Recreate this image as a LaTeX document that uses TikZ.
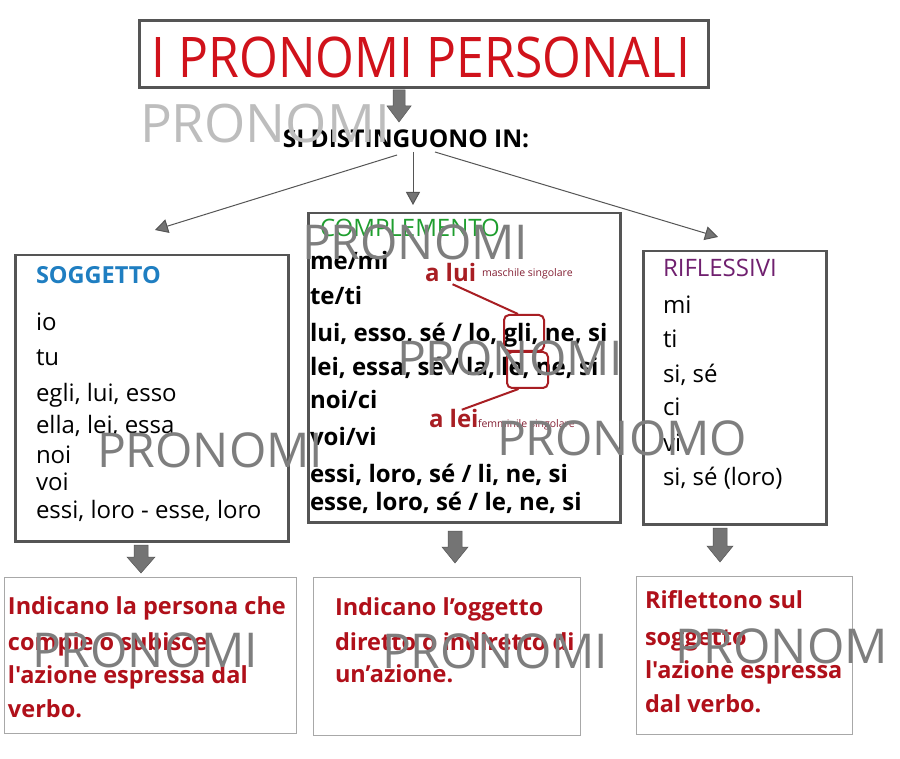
\documentclass[tikz,border=0pt]{standalone}
\usepackage{fontspec}
\setmainfont{Open Sans}[Ligatures=TeXOff]
\newfontfamily\osn{Open Sans}[FakeStretch=0.89]
\usetikzlibrary{arrows.meta}
\definecolor{titlered}{HTML}{D0121B}
\definecolor{darkred}{HTML}{B0101A}
\definecolor{hlred}{HTML}{A81E23}
\definecolor{smallred}{HTML}{842034}
\definecolor{boxgray}{HTML}{555555}
\definecolor{lightbox}{HTML}{A8A8A8}
\definecolor{sogblue}{HTML}{1F7EC1}
\definecolor{compgreen}{HTML}{1E9E2E}
\definecolor{riflpurple}{HTML}{70206F}
\definecolor{arrowfill}{HTML}{747474}
\definecolor{wmgray}{HTML}{7E7E7E}
\definecolor{wmlight}{HTML}{BDBDBD}
\newcommand\fs[1]{\fontsize{#1pt}{#1pt}\selectfont}
\tikzset{
  txt/.style={anchor=base west, inner sep=0pt, outer sep=0pt},
  reg/.style={txt, font=\fs{24}},
  bld/.style={txt, font=\bfseries\fs{24}},
  botxt/.style={txt, text=darkred, font=\bfseries\fs{23.5}},
  mainbox/.style={draw=boxgray, line width=2.5pt, anchor=north west, inner sep=0pt},
  lowbox/.style={draw=lightbox, line width=1.1pt, anchor=north west, inner sep=0pt},
  blockarr/.style={fill=arrowfill, draw=boxgray, line width=0.5pt},
  thinarr/.style={draw=boxgray, line width=1pt, -{Triangle[length=13pt,width=14pt,fill=arrowfill]}},
  hlbox/.style={draw=hlred, line width=2pt, rounded corners=5pt, inner sep=0pt},
  hlline/.style={draw=hlred, line width=2pt},
  wm/.style={txt, text=wmgray, font=\fs{48}},
}
\begin{document}
\begin{tikzpicture}[x=1pt,y=-1pt]
\fill[white] (0,0) rectangle (900,759);
\useasboundingbox (0,0) rectangle (900,759);

% title
\node[draw=boxgray, line width=3pt, minimum width=569pt, minimum height=67pt, anchor=north west, inner sep=0pt] (title) at (138,19) {};
\node[anchor=base, inner sep=0pt, text=titlered, font=\osn\fs{56}] (titletxt) at (421,78) {I PRONOMI PERSONALI};

% block arrow under title
\draw[blockarr] (393,90) -- (405,90) -- (405,106) -- (411,106) -- (399,122) -- (387,106) -- (393,106) -- cycle;

\node[anchor=base, inner sep=0pt, font=\bfseries\fs{24.5}] (si) at (406,148) {SI DISTINGUONO IN:};

\coordinate (s1) at (397,155);
\coordinate (s2) at (413,152);
\coordinate (s3) at (435,152);
\coordinate (e1) at (155,230);
\coordinate (e2) at (413,205);
\coordinate (e3) at (718,237);
\draw[thinarr] (s1) -- (e1);
\draw[thinarr] (s2) -- (e2);
\draw[thinarr] (s3) -- (e3);

% SOGGETTO box
\node[mainbox, minimum width=273pt, minimum height=286pt] (sog) at (14,254) {};
\node[txt, text=sogblue, font=\bfseries\fs{23.5}] (sogt) at (36,284) {SOGGETTO};
\node[reg] (s-a) at (36,331) {io};
\node[reg] (s-b) at (36,366) {tu};
\node[reg] (s-c) at (36,401) {egli, lui, esso};
\node[reg] (s-d) at (36,433) {ella, lei, essa};
\node[reg] (s-e) at (36,463) {noi};
\node[reg] (s-f) at (36,490) {voi};
\node[reg] (s-g) at (36,518) {essi, loro - esse, loro};

% COMPLEMENTO box
\node[mainbox, minimum width=312pt, minimum height=309pt] (comp) at (307,212) {};
\node[txt, text=compgreen, font=\fs{24}] (compt) at (320,237) {COMPLEMENTO};
\node[bld] (c-a) at (310,270) {me/mi};
\node[bld] (c-b) at (310,305) {te/ti};
\node[bld] (c-c) at (310,342) {lui, esso, sé / lo, gli, ne, si};
\node[bld] (c-d) at (310,375) {lei, essa, sé / la, le, ne, si};
\node[bld] (c-e) at (310,408) {noi/ci};
\node[bld] (c-f) at (310,445) {voi/vi};
\node[bld] (c-g) at (310,482) {essi, loro, sé / li, ne, si};
\node[bld] (c-h) at (310,510) {esse, loro, sé / le, ne, si};

\node[txt, text=hlred, font=\bfseries\fs{24}] (alui) at (425,282) {a lui};
\node[txt, text=smallred, font=\fs{10.5}] (masc) at (482,277) {maschile singolare};
\node[txt, text=hlred, font=\bfseries\fs{24}] (alei) at (429,428) {a lei};
\node[txt, text=smallred, font=\fs{10.5}] (femm) at (478,427) {femminile singolare};
\node[hlbox, minimum width=40pt, minimum height=36pt, anchor=north west] (glibox) at (503,314) {};
\node[hlbox, minimum width=41pt, minimum height=36pt, anchor=north west] (lebox) at (506,351) {};
\draw[hlline] ([xshift=2pt,yshift=-2pt]alui.south) -- ([xshift=-6pt]glibox.north);
\draw[hlline] ([xshift=-9pt]lebox.south) -- ([xshift=8pt]alei.north);

% RIFLESSIVI box
\node[mainbox, minimum width=183pt, minimum height=273pt] (rifl) at (642,250) {};
\node[txt, text=riflpurple, font=\fs{24}] (riflt) at (663,277) {RIFLESSIVI};
\node[reg] (r-a) at (663,314) {mi};
\node[reg] (r-b) at (663,348) {ti};
\node[reg] (r-c) at (663,383) {si, sé};
\node[reg] (r-d) at (663,415) {ci};
\node[reg] (r-e) at (663,451) {vi};
\node[reg] (r-f) at (663,485) {si, sé (loro)};

% block arrows to bottom boxes
\draw[blockarr] (134,545) -- (148,545) -- (148,557) -- (155,557) -- (141,573) -- (127,557) -- (134,557) -- cycle;
\draw[blockarr] (448,531) -- (462,531) -- (462,547) -- (468,547) -- (455,563) -- (442,547) -- (448,547) -- cycle;
\draw[blockarr] (713,528) -- (727,528) -- (727,546) -- (733,546) -- (720,562) -- (707,546) -- (713,546) -- cycle;

% bottom boxes
\node[lowbox, minimum width=292pt, minimum height=156pt] (b1) at (4,577) {};
\node[lowbox, minimum width=267pt, minimum height=158pt] (b2) at (313,577) {};
\node[lowbox, minimum width=216pt, minimum height=158pt] (b3) at (636,576) {};

\node[botxt] (b1a) at (8,614) {Indicano la persona che};
\node[botxt] (b1b) at (8,650) {compie o subisce};
\node[botxt] (b1c) at (8,683) {l'azione espressa dal};
\node[botxt] (b1d) at (8,717) {verbo.};

\node[botxt] (b2a) at (335,615) {Indicano l’oggetto};
\node[botxt] (b2b) at (335,650) {diretto o indiretto di};
\node[botxt] (b2c) at (335,682) {un’azione.};

\node[botxt] (b3a) at (645,608) {Riflettono sul};
\node[botxt] (b3b) at (645,645) {soggetto};
\node[botxt] (b3c) at (645,678) {l'azione espressa};
\node[botxt] (b3d) at (645,712) {dal verbo.};

% watermarks
\node[wm, text=wmlight, font=\fs{53}] (w1) at (140,143) {PRONOMI};
\node[wm] (w2) at (302,260) {PRONOMI};
\node[wm] (w3) at (397,375) {PRONOMI};
\node[wm] (w4) at (97,467) {PRONOMI};
\node[wm] (w5) at (497,455) {PRONOMO};
\node[wm] (w6) at (32,667) {PRONOMI};
\node[wm] (w7) at (382,668) {PRONOMI};
\node[wm] (w8) at (675,663) {PRONOM};
\end{tikzpicture}
\end{document}
